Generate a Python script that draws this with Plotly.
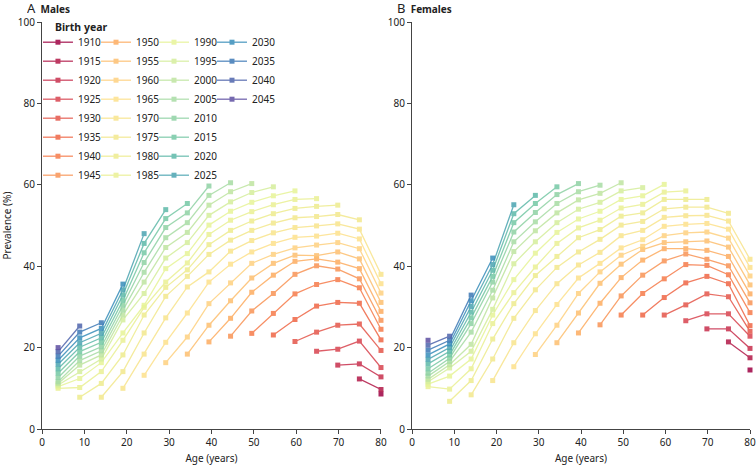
import plotly.graph_objects as go

# survey years and age groups (cohort = year - age group)
YEARS = list(range(1990, 2051, 5))
AGE_GROUP = list(range(5, 81, 5))
AGE_X = [3.8, 8.9, 14.0, 19.1, 24.1, 29.2, 34.3, 39.4, 44.5, 49.5, 54.6, 59.7, 64.8, 69.8, 74.9, 80.0]
BIRTH_YEARS = list(range(1910, 2046, 5))

# prevalence (%) per age group (rows) and survey year (columns)
MALES = [
    [10.0, 10.4, 10.8, 11.2, 11.6, 12.6, 13.7, 14.8, 15.9, 16.9, 17.9, 19.0, 20.0],
    [7.8, 10.2, 12.4, 14.1, 15.7, 16.8, 17.9, 19.0, 20.1, 21.2, 22.4, 23.8, 25.3],
    [7.8, 11.2, 14.1, 16.3, 17.2, 18.2, 19.2, 20.2, 21.3, 22.4, 23.5, 24.7, 26.1],
    [10.0, 14.1, 18.2, 21.8, 23.6, 26.8, 28.0, 29.2, 30.4, 31.6, 32.9, 34.2, 35.6],
    [13.2, 18.4, 23.6, 28.0, 29.9, 30.4, 33.3, 36.1, 38.5, 40.9, 43.3, 45.6, 48.0],
    [16.3, 21.3, 27.3, 32.6, 34.8, 36.1, 39.4, 42.0, 44.6, 47.0, 49.5, 51.7, 53.9],
    [18.4, 22.6, 28.5, 34.9, 37.5, 39.1, 40.8, 43.1, 45.8, 48.3, 50.7, 53.1, 55.4],
    [21.4, 25.5, 30.8, 36.1, 38.6, 42.9, 45.3, 47.8, 50.1, 52.5, 55.0, 57.4, 59.7],
    [22.8, 27.2, 31.5, 35.9, 40.5, 43.7, 46.4, 48.8, 51.3, 53.5, 55.8, 58.3, 60.5],
    [23.5, 29.0, 33.6, 37.1, 40.7, 43.5, 46.3, 48.8, 51.1, 53.4, 55.7, 58.1, 60.3],
    [23.1, 28.4, 33.3, 37.8, 40.7, 42.9, 45.6, 48.2, 50.6, 52.9, 55.1, 57.3, 59.5],
    [21.5, 26.9, 33.2, 38.0, 41.2, 42.7, 44.5, 47.1, 49.5, 51.9, 54.2, 56.4, 58.5],
    [19.1, 23.8, 30.2, 35.5, 40.1, 41.8, 42.6, 45.2, 47.4, 49.9, 52.2, 54.7, 56.6],
    [15.7, 19.6, 25.5, 31.1, 36.7, 39.3, 41.0, 43.5, 45.8, 48.1, 50.4, 52.7, 55.0],
    [12.3, 16.0, 21.6, 25.8, 30.9, 34.7, 36.9, 39.4, 41.8, 44.3, 46.7, 49.1, 51.4],
    [8.6, 9.7, 12.8, 15.1, 19.3, 21.9, 24.5, 26.7, 28.9, 31.1, 33.4, 35.7, 38.0],
]

FEMALES = [
    [10.4, 11.0, 11.6, 12.2, 13.0, 13.7, 14.8, 16.0, 17.1, 18.2, 19.4, 20.6, 21.8],
    [6.8, 9.8, 13.0, 15.0, 15.8, 16.6, 17.4, 18.2, 19.1, 20.0, 20.9, 21.8, 22.8],
    [8.4, 11.9, 14.8, 17.2, 19.1, 20.8, 23.8, 25.9, 27.3, 28.7, 30.1, 31.5, 32.9],
    [11.9, 17.2, 22.1, 25.9, 28.0, 29.4, 32.2, 34.1, 36.1, 37.5, 39.0, 40.4, 42.0],
    [15.3, 21.2, 27.2, 30.8, 33.5, 36.7, 40.6, 43.6, 46.0, 48.4, 50.7, 52.9, 55.1],
    [18.3, 23.4, 29.1, 34.2, 37.7, 39.8, 43.2, 46.0, 48.7, 50.9, 53.2, 55.4, 57.4],
    [21.2, 25.5, 30.6, 35.7, 39.7, 42.4, 45.6, 48.3, 50.7, 53.1, 55.4, 57.6, 59.5],
    [23.6, 28.5, 33.3, 37.1, 40.3, 43.5, 47.0, 49.4, 51.6, 54.0, 56.3, 58.3, 60.3],
    [25.6, 30.9, 35.8, 38.6, 40.7, 43.4, 46.6, 49.0, 51.3, 53.5, 55.7, 57.9, 59.9],
    [28.0, 32.7, 37.2, 40.5, 42.7, 44.5, 47.5, 50.1, 52.3, 54.3, 56.4, 58.5, 60.5],
    [28.0, 33.3, 37.8, 41.5, 44.1, 44.9, 46.5, 48.8, 51.0, 53.1, 55.2, 57.3, 59.3],
    [28.0, 32.3, 36.9, 41.3, 44.3, 45.8, 47.5, 49.8, 52.0, 54.1, 56.4, 58.2, 60.1],
    [26.6, 30.5, 35.9, 40.4, 43.0, 44.3, 46.0, 48.2, 50.3, 52.4, 54.5, 56.4, 58.5],
    [24.6, 28.3, 33.2, 37.5, 40.2, 41.7, 43.9, 46.2, 48.4, 50.5, 52.5, 54.5, 56.4],
    [21.4, 24.6, 28.3, 32.5, 35.7, 37.9, 40.1, 42.4, 44.7, 46.9, 49.1, 51.1, 53.0],
    [14.5, 17.5, 19.8, 22.8, 24.0, 25.4, 28.6, 31.0, 33.2, 35.4, 37.6, 39.7, 41.7],
]

SPECTRAL = ['#9e0142', '#d53e4f', '#f46d43', '#fdae61', '#fee08b', '#f0ea8c',
            '#e6f598', '#abdda4', '#66c2a5', '#3288bd', '#5e4fa2']


def spectral(t):
    n = len(SPECTRAL) - 1
    k = min(int(t * n), n - 1)
    f = t * n - k
    a, b = SPECTRAL[k], SPECTRAL[k + 1]
    rgb = [round(int(a[1 + 2 * c:3 + 2 * c], 16) * (1 - f) + int(b[1 + 2 * c:3 + 2 * c], 16) * f)
           for c in range(3)]
    return 'rgb(%d,%d,%d)' % tuple(rgb)


def cohort(table, born):
    xs, ys = [], []
    for i, age in enumerate(AGE_GROUP):
        for j, yr in enumerate(YEARS):
            if yr - age == born:
                xs.append(AGE_X[i])
                ys.append(table[i][j])
    return xs, ys


LEGENDS = ['legend', 'legend2', 'legend3', 'legend4']

fig = go.Figure()
for table, xa, ya, show in [(MALES, 'x', 'y', True), (FEMALES, 'x2', 'y2', False)]:
    for k, born in enumerate(BIRTH_YEARS):
        xs, ys = cohort(table, born)
        col = spectral(k / (len(BIRTH_YEARS) - 1))
        fig.add_trace(go.Scatter(
            x=xs, y=ys, xaxis=xa, yaxis=ya, name=str(born),
            mode='lines+markers', cliponaxis=False, opacity=0.85,
            line=dict(color=col, width=1.3),
            marker=dict(symbol='square', size=5, color=col),
            legend=LEGENDS[k // 8], showlegend=show,
        ))

axis = dict(showline=True, linecolor='#444', linewidth=1, ticks='outside', ticklen=4,
            tickcolor='#444', showgrid=False, zeroline=False, automargin=False,
            ticklabeloverflow='allow', tickfont=dict(size=10, color='#222'))
age_title = dict(text='Age (years)', standoff=6, font=dict(size=10))

fig.update_layout(
    width=756, height=465, autosize=False,
    margin=dict(l=42, r=6, t=22, b=36),
    paper_bgcolor='white', plot_bgcolor='white',
    font=dict(family='Noto Sans', size=10, color='#222'),
    xaxis=dict(axis, domain=[0, 0.4788], range=[0, 80], tickvals=list(range(0, 81, 10)),
               title=age_title),
    yaxis=dict(axis, range=[0, 100], dtick=20,
               title=dict(text='Prevalence (%)', standoff=6, font=dict(size=10))),
    xaxis2=dict(axis, domain=[0.5226, 1], anchor='y2', range=[0, 80], tickvals=list(range(0, 81, 10)),
                title=age_title),
    yaxis2=dict(axis, anchor='x2', range=[0, 100], dtick=20),
)

leg = dict(xanchor='left', yanchor='top', y=0.986, bgcolor='rgba(0,0,0,0)',
           font=dict(size=10), tracegroupgap=0, itemwidth=30)
fig.update_layout(
    legend=dict(leg, x=-0.0057),
    legend2=dict(leg, x=0.0763),
    legend3=dict(leg, x=0.1582),
    legend4=dict(leg, x=0.2401),
)

fig.add_annotation(x=0.0155, y=0.988, xref='paper', yref='paper', xanchor='left', yanchor='middle',
                   showarrow=False, text='<b>Birth year</b>', font=dict(size=10.5))

for x, letter, label in [(-0.024, 'A', 'Males'), (0.4986, 'B', 'Females')]:
    fig.add_annotation(x=x, y=1.0356, xref='paper', yref='paper', xanchor='left', yanchor='middle',
                       showarrow=False, height=14, valign='middle',
                       text="<span style='font-size:13px'>%s</span>  <b>%s</b>" % (letter, label))

fig.write_html("out.html", config={'displayModeBar': False},
               post_script="document.body.style.margin='0px';")
